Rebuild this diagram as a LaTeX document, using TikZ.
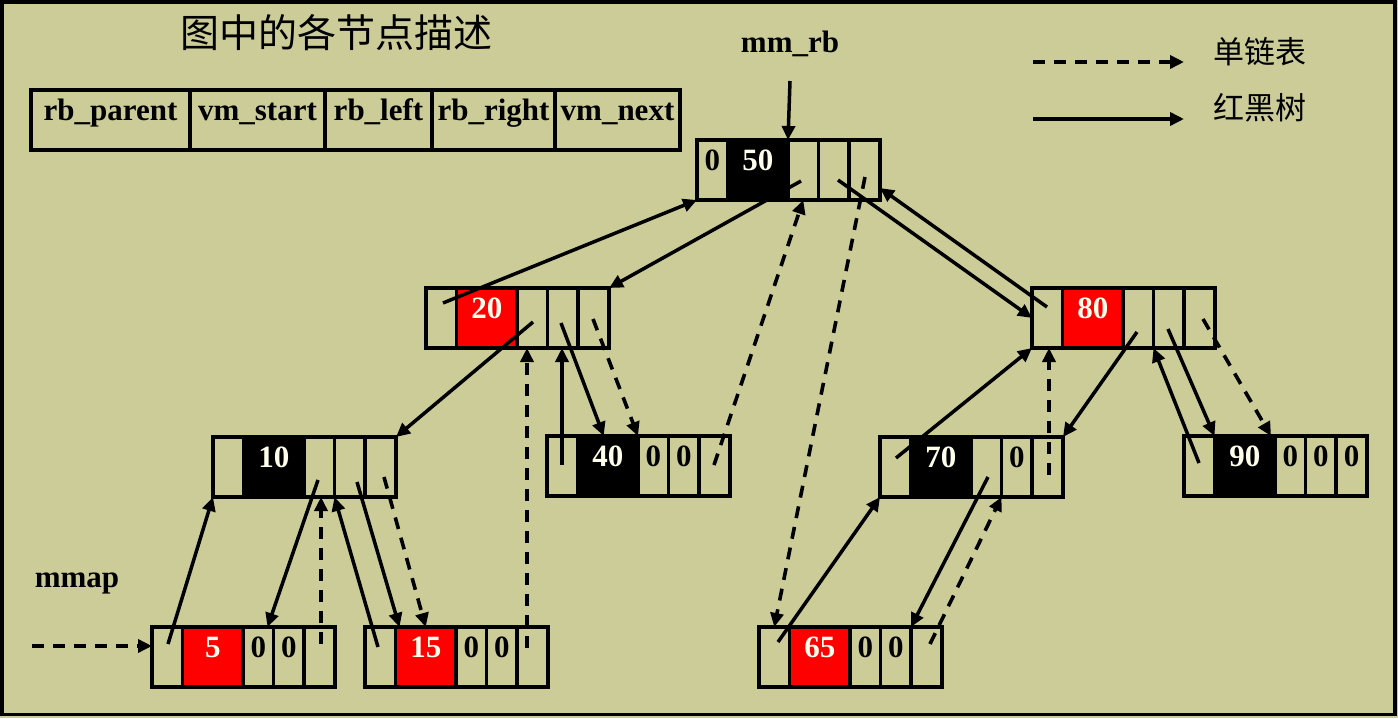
\documentclass[tikz,border=0pt]{standalone}
\usepackage{fontspec}
\setmainfont{Liberation Serif}
\newfontfamily\cjk{Noto Sans CJK SC}
\usetikzlibrary{arrows.meta,calc}
\definecolor{bg}{RGB}{204,204,153}
\definecolor{numw}{RGB}{255,255,235}
\tikzset{
 cell/.style={draw=black,line width=3.3pt,minimum height=60pt,inner sep=0pt,outer sep=0pt,anchor=north west},
 lbl/.style={font=\fontsize{31}{31}\selectfont\bfseries,inner sep=0pt,anchor=base},
 wlbl/.style={lbl,text=numw},
 rbarrow/.style={draw=black,line width=3.5pt,-{Triangle[length=14pt,width=13pt]}},
 llarrow/.style={draw=black,line width=3.6pt,dash pattern=on 12pt off 9pt,-{Triangle[length=14pt,width=13pt]}},
 cjkt/.style={font=\cjk\fontsize{31}{31}\selectfont,inner sep=0pt},
}
\newcommand\mkrec[5]{%
 \node[cell,minimum width=30.5pt] (#1-1) at (#2,#3) {};
 \node[cell,minimum width=60.5pt,fill=#4] (#1-2) at ({#2+30.5},#3) {};
 \node[cell,minimum width=30.5pt] (#1-3) at ({#2+91},#3) {};
 \node[cell,minimum width=30.5pt] (#1-4) at ({#2+121.5},#3) {};
 \node[cell,minimum width=31pt] (#1-5) at ({#2+152},#3) {};
 \node[wlbl] (#1-t) at ($(#1-2.north)+(0,30)$) {#5};
}
\newcommand\zl[3]{\node[lbl] (#1-z#2) at ($(#1-#2.north)+(0,30)$) {#3};}
\begin{document}
\begin{tikzpicture}[x=1pt,y=-1pt]
\useasboundingbox (0,0) rectangle (1398,718);
\fill[bg] (0,0) rectangle (1398,718);
\draw[line width=3.5pt] (1.75,1.75) rectangle (1395,714.5);

% title and field table
\node[cjkt,font=\cjk\fontsize{39}{39}\selectfont] (title) at (336,33) {图中的各节点描述};
\node[cell,minimum width=159pt] (h1) at (31,90) {};
\node[cell,minimum width=135pt] (h2) at (190,90) {};
\node[cell,minimum width=107pt] (h3) at (325,90) {};
\node[cell,minimum width=123pt] (h4) at (432,90) {};
\node[cell,minimum width=125pt] (h5) at (555,90) {};
\node[lbl] (h1t) at ($(h1.north)+(0,30)$) {rb\_parent};
\node[lbl] (h2t) at ($(h2.north)+(0,30)$) {vm\_start};
\node[lbl] (h3t) at ($(h3.north)+(0,30)$) {rb\_left};
\node[lbl] (h4t) at ($(h4.north)+(0,30)$) {rb\_right};
\node[lbl] (h5t) at ($(h5.north)+(0,30)$) {vm\_next};

% legend
\coordinate (lg1s) at (1033,62);
\coordinate (lg1e) at (1184,62);
\coordinate (lg2s) at (1033,119);
\coordinate (lg2e) at (1184,119);
\draw[llarrow] (lg1s) -- (lg1e);
\draw[rbarrow] (lg2s) -- (lg2e);
\node[cjkt,anchor=west] (lgt1) at (1213,52) {单链表};
\node[cjkt,anchor=west] (lgt2) at (1213,108) {红黑树};

% records
\mkrec{n50}{697}{140}{black}{50}
\zl{n50}{1}{0}
\mkrec{n20}{426}{288}{red}{20}
\mkrec{n80}{1032}{288}{red}{80}
\mkrec{n10}{213}{437}{black}{10}
\mkrec{n40}{547}{436}{black}{40}
\zl{n40}{3}{0}\zl{n40}{4}{0}
\mkrec{n70}{880}{437}{black}{70}
\zl{n70}{4}{0}
\mkrec{n90}{1184}{436}{black}{90}
\zl{n90}{3}{0}\zl{n90}{4}{0}\zl{n90}{5}{0}
\mkrec{n5}{152}{627}{red}{5}
\zl{n5}{3}{0}\zl{n5}{4}{0}
\mkrec{n15}{365}{627}{red}{15}
\zl{n15}{3}{0}\zl{n15}{4}{0}
\mkrec{n65}{759}{627}{red}{65}
\zl{n65}{3}{0}\zl{n65}{4}{0}

% outside labels
\node[lbl] (mmrb) at (790,52) {mm\_rb};
\node[lbl] (mmap) at (77,587) {mmap};

% free ends
\coordinate (mmrbS) at (790,81);
\coordinate (mmapS) at (32,646);
\coordinate (s50L) at (801,181);
\coordinate (s20P) at (443,303);
\coordinate (s50R) at (838,180);
\coordinate (s80P) at (1047,307);
\coordinate (s20L) at (533,322);
\coordinate (s20R) at (561,323);
\coordinate (s40P) at (562,465);
\coordinate (s10L) at (318,480);
\coordinate (s5P) at (168,644);
\coordinate (s10R) at (357,482);
\coordinate (s15P) at (378,647);
\coordinate (s80L) at (1137,332);
\coordinate (s70P) at (896,458);
\coordinate (s80R) at (1168,329);
\coordinate (s90P) at (1199,463);
\coordinate (s70L) at (988,477);
\coordinate (s65P) at (778,642);
\coordinate (s5N) at (321,644);
\coordinate (s10N) at (384,477);
\coordinate (s15N) at (527,648);
\coordinate (s20N) at (593,319);
\coordinate (s40N) at (714,465);
\coordinate (s50N) at (865,177);
\coordinate (s65N) at (930,644);
\coordinate (s70N) at (1049,475);
\coordinate (s80N) at (1203,319);

% red-black tree links
\draw[rbarrow] (mmrbS) -- (n50-2.north east);
\draw[rbarrow] (s50L) -- (n20-5.north east);
\draw[rbarrow] (s20P) -- (n50-1.south west);
\draw[rbarrow] (s50R) -- (n80-1.west);
\draw[rbarrow] (s80P) -- ($(n50-5.east)!0.6!(n50-5.south east)$);
\draw[rbarrow] (s20L) -- (n10-5.north east);
\draw[rbarrow] (s20R) -- ([xshift=-4pt]n40-2.north);
\draw[rbarrow] (s40P) -- (s40P |- n20-4.south);
\draw[rbarrow] (s10L) -- ([xshift=-6pt]n5-3.north east);
\draw[rbarrow] (s5P) -- (n10-1.south west);
\draw[rbarrow] (s10R) -- ([xshift=4pt]n15-2.north west);
\draw[rbarrow] (s15P) -- (n10-4.south west);
\draw[rbarrow] (s80L) -- (n70-5.north east);
\draw[rbarrow] (s70P) -- (n80-1.south west);
\draw[rbarrow] (s80R) -- (n90-2.north west);
\draw[rbarrow] (s90P) -- (n80-4.south west);
\draw[rbarrow] (s70L) -- (n65-4.north east);
\draw[rbarrow] (s65P) -- (n70-1.south west);

% linked list
\draw[llarrow] (mmapS) -- (mmapS -| n5-1.west);
\draw[llarrow] (s5N) -- (s5N |- n10-3.south);
\draw[llarrow] (s10N) -- (n15-2.north);
\draw[llarrow] (s15N) -- (s15N |- n20-3.south);
\draw[llarrow] (s20N) -- (n40-3.north west);
\draw[llarrow] (s40N) -- (n50-3.south);
\draw[llarrow] (s50N) -- (n65-1.north);
\draw[llarrow] (s65N) -- (n70-4.south west);
\draw[llarrow] (s70N) -- (s70N |- n80-1.south);
\draw[llarrow] (s80N) -- ([xshift=-4pt]n90-3.north west);
\end{tikzpicture}
\end{document}
